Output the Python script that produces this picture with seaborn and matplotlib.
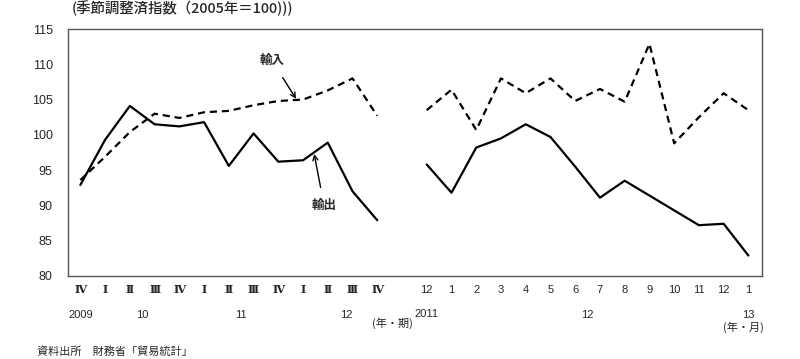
import numpy as np
import pandas as pd
import matplotlib
matplotlib.use("Agg")
import matplotlib.pyplot as plt
import seaborn as sns

# ---- data ----
q_labels = ["Ⅳ", "Ⅰ", "Ⅱ", "Ⅲ", "Ⅳ", "Ⅰ", "Ⅱ", "Ⅲ", "Ⅳ", "Ⅰ", "Ⅱ", "Ⅲ", "Ⅳ"]
q_export = [92.9, 99.3, 104.1, 101.5, 101.2, 101.8, 95.6, 100.2, 96.2, 96.4, 98.9, 92.0, 87.9]
q_import = [93.6, 96.9, 100.4, 103.0, 102.4, 103.2, 103.4, 104.2, 104.8, 105.0, 106.3, 108.0, 102.7]

m_labels = ["12", "1", "2", "3", "4", "5", "6", "7", "8", "9", "10", "11", "12", "1"]
m_export = [95.8, 91.8, 98.2, 99.5, 101.5, 99.7, 95.5, 91.1, 93.5, 91.4, 89.3, 87.2, 87.4, 82.9]
m_import = [103.5, 106.4, 100.7, 108.0, 105.9, 108.0, 104.8, 106.5, 104.7, 112.9, 98.8, 102.5, 105.9, 103.5]

y_ticks = [80, 85, 90, 95, 100, 105, 110, 115]

title = "(季節調整済指数（2005年＝100)))"
source = "資料出所　財務省「貿易統計」"

# ---- layout ----
sns.set_theme(style="white")
plt.rcParams['font.family'] = ['Noto Sans CJK JP', 'DejaVu Sans']
LAT = ['Liberation Sans', 'DejaVu Sans']

gap = 1
nq = len(q_labels)
q_x = np.arange(nq)
m_x = np.arange(len(m_labels)) + nq + gap

dfq = pd.DataFrame({"x": q_x, "輸出": q_export, "輸入": q_import})
dfm = pd.DataFrame({"x": m_x, "輸出": m_export, "輸入": m_import})

fig = plt.figure(figsize=(8, 3.59), dpi=100)
ax = fig.add_axes([0.085, 0.2312, 0.8675, 0.688])

for df in (dfq, dfm):
    sns.lineplot(data=df, x="x", y="輸出", ax=ax, color="black", lw=1.6, legend=False)
    sns.lineplot(data=df, x="x", y="輸入", ax=ax, color="black", lw=1.6, legend=False)
for line in ax.lines[1::2]:
    line.set_dashes([3.2, 2.2])

ax.set_ylim(80, 115)
ax.set_xlim(-0.5, m_x[-1] + 0.55)
ax.set_yticks(y_ticks)
ax.set_yticklabels([str(v) for v in y_ticks], fontsize=9, family=LAT)
ax.tick_params(axis='y', direction='in', length=4, width=0.8, color='#444', pad=11)
ax.set_xticks([])
ax.set_xlabel("")
ax.set_ylabel("")
for s in ax.spines.values():
    s.set_color('#555')
    s.set_linewidth(1.0)

trans = ax.get_xaxis_transform()
for x, lab in zip(q_x, q_labels):
    ax.text(x, -0.055, lab, transform=trans, ha='center', va='center', fontsize=8,
            fontweight='bold', family=['DejaVu Serif'])
for x, lab in zip(m_x, m_labels):
    ax.text(x, -0.055, lab, transform=trans, ha='center', va='center', fontsize=8, family=LAT)

# year labels
yr_y = -0.158
ax.text(q_x[0], yr_y, "2009", transform=trans, ha='center', va='center', fontsize=8, family=LAT)
ax.text(2.5, yr_y, "10", transform=trans, ha='center', va='center', fontsize=8, family=LAT)
ax.text(6.5, yr_y, "11", transform=trans, ha='center', va='center', fontsize=8, family=LAT)
ax.text(10.75, yr_y, "12", transform=trans, ha='center', va='center', fontsize=8, family=LAT)
ax.text(12.6, -0.192, "(年・期)", transform=trans, ha='center', va='center', fontsize=8)
ax.text(m_x[0], yr_y + 0.005, "2011", transform=trans, ha='center', va='center', fontsize=8, family=LAT)
ax.text(m_x[6] + 0.5, yr_y, "12", transform=trans, ha='center', va='center', fontsize=8, family=LAT)
ax.text(m_x[-1], yr_y, "13", transform=trans, ha='center', va='center', fontsize=8, family=LAT)
ax.text(m_x[-1] - 0.2, -0.208, "(年・月)", transform=trans, ha='center', va='center', fontsize=8)

# annotations
ax.annotate("輸入", xy=(q_x[9] - 0.28, 105.1), xytext=(q_x[9] - 1.25, 110.5),
            ha='center', va='center', fontsize=9, fontweight='bold',
            arrowprops=dict(arrowstyle='->', color='black', lw=1.0, shrinkA=6, shrinkB=0))
ax.annotate("輸出", xy=(q_x[9] + 0.45, 97.3), xytext=(q_x[9] + 0.85, 90.0),
            ha='center', va='center', fontsize=9, fontweight='bold',
            arrowprops=dict(arrowstyle='->', color='black', lw=1.0, shrinkA=6, shrinkB=0))

fig.text(0.09, 0.978, title, ha='left', va='center', fontsize=10.4, fontweight='medium')
fig.text(0.046, 0.02, source, ha='left', va='center', fontsize=8)

fig.savefig("out.png", dpi=100)
